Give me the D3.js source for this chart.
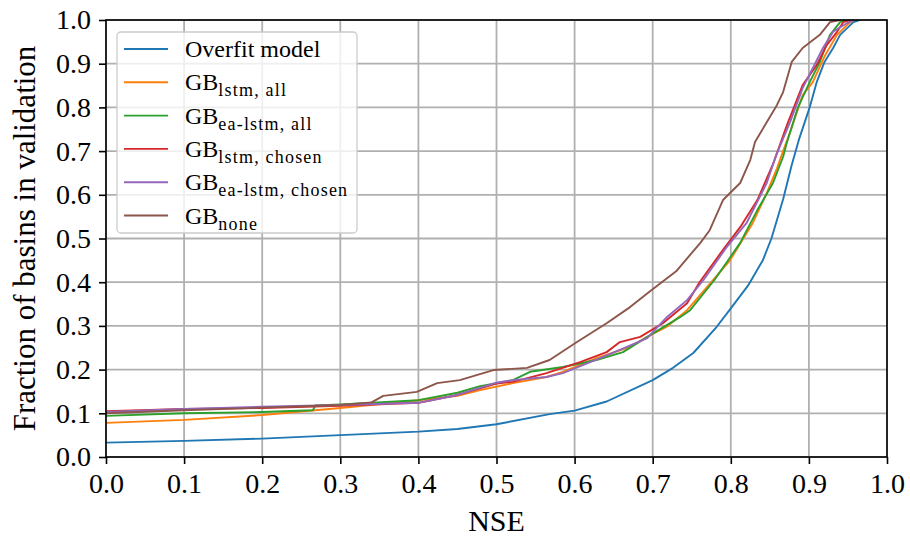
<!DOCTYPE html>
<html>
<head>
<meta charset="utf-8">
<script src="https://cdn.jsdelivr.net/npm/d3@7"></script>
<style>
  body { margin: 0; background: #fff; }
  svg { display: block; font-family: "Liberation Serif", "Times New Roman", serif; }
</style>
</head>
<body>
<script>
var overfit = [[0, 0.033], [0.1, 0.037], [0.2, 0.042], [0.3, 0.05], [0.4, 0.058], [0.45, 0.064],
  [0.5, 0.075], [0.568, 0.098], [0.6, 0.106], [0.641, 0.127], [0.7, 0.176], [0.726, 0.204],
  [0.752, 0.238], [0.782, 0.298], [0.8, 0.34], [0.822, 0.392], [0.841, 0.45], [0.852, 0.5],
  [0.867, 0.59], [0.878, 0.668], [0.887, 0.725], [0.901, 0.8], [0.91, 0.858], [0.92, 0.904],
  [0.931, 0.936], [0.94, 0.966], [0.957, 0.995], [0.965, 1.0]];
var lstmAll = [[0, 0.078], [0.1, 0.085], [0.2, 0.096], [0.3, 0.112], [0.4, 0.13], [0.45, 0.14],
  [0.479, 0.153], [0.521, 0.169], [0.564, 0.183], [0.585, 0.195], [0.628, 0.226], [0.671, 0.252],
  [0.693, 0.275], [0.718, 0.298], [0.744, 0.336], [0.772, 0.394], [0.799, 0.45], [0.828, 0.535],
  [0.846, 0.604], [0.859, 0.66], [0.867, 0.7], [0.876, 0.744], [0.892, 0.828], [0.905, 0.858],
  [0.921, 0.92], [0.936, 0.966], [0.949, 0.989], [0.957, 1.0]];
var eaAll = [[0, 0.094], [0.1, 0.1], [0.2, 0.103], [0.265, 0.107], [0.268, 0.118], [0.3, 0.12],
  [0.4, 0.13], [0.45, 0.147], [0.479, 0.162], [0.521, 0.176], [0.543, 0.195], [0.585, 0.206],
  [0.628, 0.222], [0.662, 0.24], [0.693, 0.275], [0.735, 0.32], [0.748, 0.336], [0.779, 0.405],
  [0.812, 0.49], [0.834, 0.565], [0.854, 0.627], [0.867, 0.687], [0.872, 0.721], [0.886, 0.8],
  [0.901, 0.858], [0.914, 0.904], [0.927, 0.966], [0.94, 0.995], [0.949, 1.0]];
var lstmChosen = [[0, 0.105], [0.1, 0.11], [0.2, 0.112], [0.3, 0.117], [0.4, 0.124], [0.45, 0.142],
  [0.5, 0.168], [0.521, 0.172], [0.564, 0.192], [0.607, 0.217], [0.641, 0.24], [0.658, 0.263],
  [0.684, 0.275], [0.713, 0.306], [0.744, 0.352], [0.76, 0.4], [0.79, 0.474], [0.812, 0.526],
  [0.834, 0.588], [0.854, 0.67], [0.872, 0.76], [0.892, 0.851], [0.91, 0.897], [0.923, 0.943],
  [0.936, 0.973], [0.944, 0.995], [0.953, 1.0]];
var eaChosen = [[0, 0.103], [0.1, 0.11], [0.2, 0.115], [0.3, 0.119], [0.4, 0.124], [0.45, 0.142],
  [0.5, 0.17], [0.521, 0.176], [0.564, 0.183], [0.585, 0.192], [0.62, 0.217], [0.658, 0.245],
  [0.693, 0.272], [0.718, 0.32], [0.744, 0.359], [0.765, 0.405], [0.795, 0.481], [0.82, 0.535],
  [0.846, 0.627], [0.858, 0.69], [0.876, 0.767], [0.892, 0.844], [0.918, 0.936], [0.931, 0.973],
  [0.949, 0.993], [0.957, 1.0]];
var gbNone = [[0, 0.1], [0.1, 0.107], [0.2, 0.113], [0.3, 0.119], [0.34, 0.125], [0.355, 0.14],
  [0.398, 0.149], [0.424, 0.169], [0.453, 0.176], [0.496, 0.199], [0.539, 0.204], [0.568, 0.222],
  [0.603, 0.263], [0.641, 0.306], [0.671, 0.343], [0.697, 0.38], [0.73, 0.425], [0.761, 0.49],
  [0.773, 0.519], [0.79, 0.588], [0.812, 0.627], [0.825, 0.68], [0.831, 0.721], [0.859, 0.805],
  [0.867, 0.835], [0.878, 0.904], [0.892, 0.936], [0.914, 0.966], [0.927, 0.995], [0.94, 1.0]];

var seriesData = [overfit, lstmAll, eaAll, lstmChosen, eaChosen, gbNone];
var seriesMain = ['Overfit model', 'GB', 'GB', 'GB', 'GB', 'GB'];
var seriesSub = ['', 'lstm, all', 'ea-lstm, all', 'lstm, chosen', 'ea-lstm, chosen', 'none'];
var seriesColors = ['#1f77b4', '#ff7f0e', '#2ca02c', '#d62728', '#9467bd', '#8c564b'];
var tickValues = [0, 0.1, 0.2, 0.3, 0.4, 0.5, 0.6, 0.7, 0.8, 0.9, 1.0];

var width = 910, height = 540;
var margin = {top: 20, right: 23, bottom: 83, left: 106};

var svg = d3.select('body').append('svg')
  .attr('width', width)
  .attr('height', height);

var x = d3.scaleLinear().domain([0, 1]).range([margin.left, width - margin.right]);
var y = d3.scaleLinear().domain([0, 1]).range([height - margin.bottom, margin.top]);

svg.append('clipPath').attr('id', 'plot')
  .append('rect')
  .attr('x', x(0)).attr('y', y(1))
  .attr('width', x(1) - x(0)).attr('height', y(0) - y(1));

// grid
var grid = svg.append('g');
grid.selectAll('.gx').data(tickValues).enter().append('line')
  .attr('x1', function (d) { return x(d); }).attr('x2', function (d) { return x(d); })
  .attr('y1', y(0)).attr('y2', y(1))
  .attr('stroke', '#b0b0b0').attr('stroke-width', 1.8);
grid.selectAll('.gy').data(tickValues).enter().append('line')
  .attr('y1', function (d) { return y(d); }).attr('y2', function (d) { return y(d); })
  .attr('x1', x(0)).attr('x2', x(1))
  .attr('stroke', '#b0b0b0').attr('stroke-width', 1.8);

// curves
var line = d3.line()
  .x(function (d) { return x(d[0]); })
  .y(function (d) { return y(d[1]); });

svg.append('g').attr('clip-path', 'url(#plot)')
  .selectAll('path').data(seriesData).enter().append('path')
  .attr('d', line)
  .attr('fill', 'none')
  .attr('stroke', function (d, i) { return seriesColors[i]; })
  .attr('stroke-width', 1.9)
  .attr('stroke-linejoin', 'round');

// axes
var fmt = d3.format('.1f');
var xAxis = svg.append('g')
  .attr('transform', 'translate(0,' + y(0) + ')')
  .call(d3.axisBottom(x).tickValues(tickValues).tickFormat(fmt).tickSizeInner(7).tickSizeOuter(0).tickPadding(9));
var yAxis = svg.append('g')
  .attr('transform', 'translate(' + x(0) + ',0)')
  .call(d3.axisLeft(y).tickValues(tickValues).tickFormat(fmt).tickSizeInner(7).tickSizeOuter(0).tickPadding(8));

[xAxis, yAxis].forEach(function (a) {
  a.select('.domain').remove();
  a.selectAll('.tick line').attr('stroke', '#000').attr('stroke-width', 1.6);
  a.selectAll('.tick text')
    .attr('fill', '#000')
    .style('font-family', '"Liberation Serif", serif')
    .style('font-size', '28px');
});

svg.append('rect')
  .attr('x', x(0)).attr('y', y(1))
  .attr('width', x(1) - x(0)).attr('height', y(0) - y(1))
  .attr('fill', 'none').attr('stroke', '#000').attr('stroke-width', 1.6);

svg.append('text')
  .attr('x', (x(0) + x(1)) / 2).attr('y', 531)
  .attr('text-anchor', 'middle')
  .style('font-size', '30px')
  .text('NSE');

svg.append('text')
  .attr('transform', 'translate(35,' + ((y(0) + y(1)) / 2) + ') rotate(-90)')
  .attr('text-anchor', 'middle')
  .style('font-size', '31px')
  .text('Fraction of basins in validation');

// legend
var legend = svg.append('g');
legend.append('rect')
  .attr('x', 117).attr('y', 32)
  .attr('width', 240).attr('height', 201)
  .attr('rx', 4)
  .attr('fill', '#fff').attr('fill-opacity', 0.8)
  .attr('stroke', '#cccccc').attr('stroke-width', 1.3);

var rows = legend.selectAll('.row').data(seriesColors).enter().append('g')
  .attr('transform', function (d, i) { return 'translate(0,' + (49 + i * 33.3) + ')'; });

rows.append('line')
  .attr('x1', 124).attr('x2', 168)
  .attr('stroke', function (d) { return d; })
  .attr('stroke-width', 1.9);

var label = rows.append('text')
  .attr('x', 185).attr('y', 8)
  .style('font-size', '24px');
label.append('tspan').text(function (d, i) { return seriesMain[i]; });
label.append('tspan')
  .attr('dy', 6)
  .style('font-size', '18px')
  .style('letter-spacing', '1.2px')
  .text(function (d, i) { return seriesSub[i]; });
</script>
</body>
</html>
